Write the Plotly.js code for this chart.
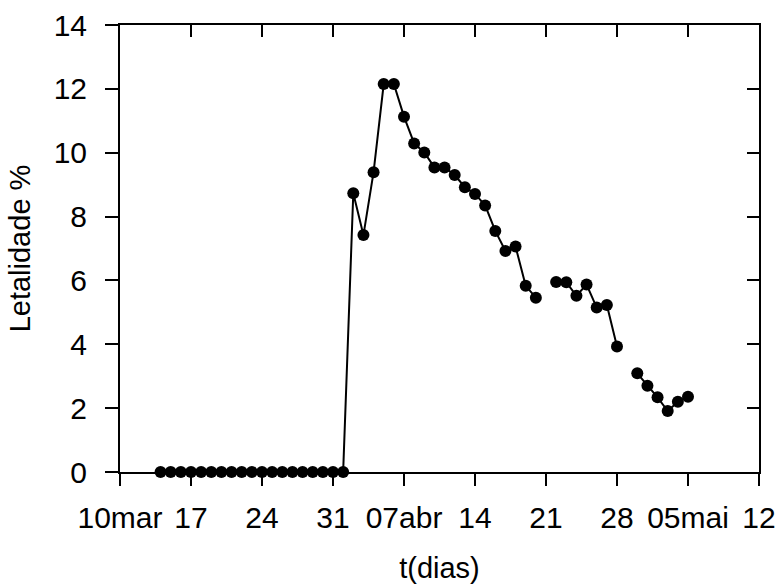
<!DOCTYPE html>
<html>
<head>
<meta charset="utf-8">
<script src="https://cdn.plot.ly/plotly-3.0.1.min.js"></script>
<style>
  html, body { margin: 0; padding: 0; background: #fff; }
  #chart { width: 779px; height: 587px; }
</style>
</head>
<body>
<div id="chart"></div>
<script>
// Dates of observations
var dates = [
  '2020-03-14','2020-03-15','2020-03-16','2020-03-17','2020-03-18','2020-03-19','2020-03-20',
  '2020-03-21','2020-03-22','2020-03-23','2020-03-24','2020-03-25','2020-03-26','2020-03-27',
  '2020-03-28','2020-03-29','2020-03-30','2020-03-31','2020-04-01',
  '2020-04-02','2020-04-03','2020-04-04','2020-04-05','2020-04-06','2020-04-07','2020-04-08',
  '2020-04-09','2020-04-10','2020-04-11','2020-04-12','2020-04-13','2020-04-14','2020-04-15',
  '2020-04-16','2020-04-17','2020-04-18','2020-04-19','2020-04-20','2020-04-21',
  '2020-04-22','2020-04-23','2020-04-24','2020-04-25','2020-04-26','2020-04-27','2020-04-28',
  '2020-04-29',
  '2020-04-30','2020-05-01','2020-05-02','2020-05-03','2020-05-04','2020-05-05'
];
// Letalidade (%) — null where the series has a gap
var letalidade = [
  0,0,0,0,0,0,0,
  0,0,0,0,0,0,0,
  0,0,0,0,0,
  8.73,7.42,9.39,12.15,12.15,11.13,10.29,
  10.01,9.54,9.54,9.30,8.92,8.71,8.35,
  7.55,6.92,7.06,5.83,5.46,null,
  5.95,5.94,5.52,5.87,5.15,5.23,3.93,
  null,
  3.09,2.70,2.34,1.91,2.20,2.36
];
var xTickVals = ['2020-03-10','2020-03-17','2020-03-24','2020-03-31','2020-04-07',
                 '2020-04-14','2020-04-21','2020-04-28','2020-05-05','2020-05-12'];
var xTickText = ['10mar','17','24','31','07abr','14','21','28','05mai','12'];
var yTickVals = [0,2,4,6,8,10,12,14];
var xRange = ['2020-03-10','2020-05-12'];
var yRange = [0,14];

var fontFam = 'Liberation Sans, Arial, sans-serif';
var fs = 30;
var fsTitle = 29;

var trace = {
  x: dates, y: letalidade, type: 'scatter', mode: 'lines+markers',
  connectgaps: false,
  line: {color: '#000', width: 2},
  marker: {color: '#000', size: 12},
  cliponaxis: false,
  hoverinfo: 'x+y'
};

var layout = {
  width: 779, height: 587,
  margin: {l: 120, r: 20, t: 25, b: 115},
  paper_bgcolor: '#fff', plot_bgcolor: '#fff',
  showlegend: false,
  font: {family: fontFam, size: fs, color: '#000'},
  xaxis: {
    type: 'date', range: xRange,
    tickmode: 'array', tickvals: xTickVals, ticktext: xTickText,
    ticks: 'outside', ticklen: 12, tickwidth: 2, tickcolor: '#000',
    ticklabelstandoff: 6,
    showline: true, linewidth: 2, linecolor: '#000',
    showgrid: false, zeroline: false,
    tickfont: {family: fontFam, size: fs, color: '#000'},
    title: {text: 't(dias)', font: {family: fontFam, size: fsTitle, color: '#000'}, standoff: 25}
  },
  yaxis: {
    range: yRange,
    tickmode: 'array', tickvals: yTickVals,
    ticks: 'outside', ticklen: 13, tickwidth: 2, tickcolor: '#000',
    ticklabelstandoff: 12,
    showline: true, linewidth: 2, linecolor: '#000',
    showgrid: false, zeroline: false,
    tickfont: {family: fontFam, size: fs, color: '#000'},
    title: {text: 'Letalidade %', font: {family: fontFam, size: fsTitle, color: '#000'}, standoff: 14}
  },
  xaxis2: {
    type: 'date', range: xRange, overlaying: 'x', side: 'top', anchor: 'y',
    tickmode: 'array', tickvals: xTickVals, ticktext: xTickText,
    ticks: 'inside', ticklen: 12, tickwidth: 2, tickcolor: '#000',
    showline: true, linewidth: 2, linecolor: '#000',
    showticklabels: false, showgrid: false, zeroline: false
  },
  yaxis2: {
    range: yRange, overlaying: 'y', side: 'right', anchor: 'x',
    tickmode: 'array', tickvals: yTickVals,
    ticks: 'inside', ticklen: 12, tickwidth: 2, tickcolor: '#000',
    showline: true, linewidth: 2, linecolor: '#000',
    showticklabels: false, showgrid: false, zeroline: false
  }
};

var helper = {
  x: [xRange[0]], y: [null], xaxis: 'x2', yaxis: 'y2', type: 'scatter', mode: 'markers',
  hoverinfo: 'skip', showlegend: false
};

Plotly.newPlot('chart', [trace, helper], layout, {displayModeBar: false, staticPlot: true});
</script>
</body>
</html>
